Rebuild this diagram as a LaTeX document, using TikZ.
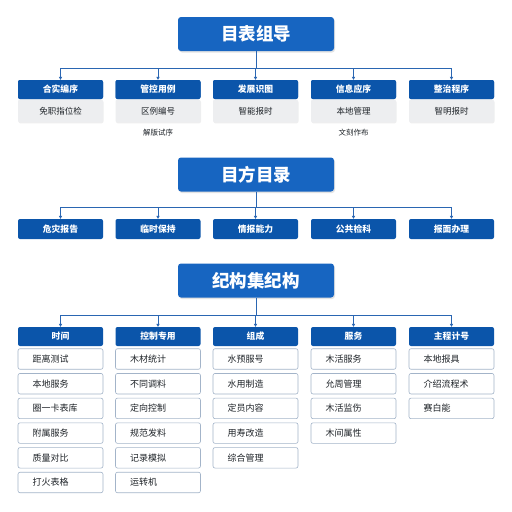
\documentclass[tikz,border=0pt]{standalone}
\usepackage{fontspec}
\setmainfont{Noto Sans CJK SC}
\usetikzlibrary{shadows,arrows.meta}
\definecolor{titleblue}{HTML}{1765C1}
\definecolor{hdrblue}{HTML}{0B55AA}
\definecolor{linkblue}{HTML}{2A66B2}
\definecolor{bodygray}{HTML}{EDEEF0}
\definecolor{itemborder}{HTML}{A3B4C9}
\definecolor{txtdark}{HTML}{1E2328}
\begin{document}
\begin{tikzpicture}[x=1pt,y=-1pt,
  titlebox/.style={fill=titleblue, rounded corners=3pt, minimum width=156pt, minimum height=34pt, inner sep=0pt,
    text=white, font=\fontsize{17.5}{17.5}\selectfont\bfseries,
    drop shadow={opacity=0.22, shadow xshift=1pt, shadow yshift=-1.5pt}},
  hdr/.style={fill=hdrblue, rounded corners=2pt, minimum width=85pt, minimum height=19pt, inner sep=0pt,
    text=white, font=\fontsize{8.8}{8.8}\selectfont\bfseries},
  bodybox/.style={fill=bodygray, rounded corners=2pt, minimum width=85pt, minimum height=23pt, inner sep=0pt,
    text=txtdark, font=\fontsize{8.5}{8.5}\selectfont,
    drop shadow={opacity=0.12, shadow xshift=0.5pt, shadow yshift=-1pt}},
  midbox/.style={fill=hdrblue, rounded corners=2pt, minimum width=85pt, minimum height=20pt, inner sep=0pt,
    text=white, font=\fontsize{8.8}{8.8}\selectfont\bfseries},
  itembox/.style={draw=itemborder, line width=0.6pt, fill=white, rounded corners=2pt, minimum height=20.5pt,
    text width=56pt, inner xsep=14.5pt, inner ysep=0pt, align=left,
    text=txtdark, font=\fontsize{9}{9}\selectfont},
  note/.style={text=txtdark, font=\fontsize{7.5}{7.5}\selectfont, inner sep=0pt},
  conn/.style={draw=linkblue, line width=0.9pt},
  arr/.style={conn, -{Triangle[length=3pt,width=3.2pt]}}
]
\useasboundingbox (0,0) rectangle (512,512);
\fill[white] (0,0) rectangle (512,512);

% ---------- section 1 ----------
\node[titlebox] (t1) at (256,34) {目表组导};
\coordinate (bus1) at (256,68);
\foreach \i/\x/\h/\b in {1/60.5/合实编序/免职指位检, 2/158/管控用例/区例编号, 3/255.5/发展识图/智能报时, 4/353.5/信息应序/本地管理, 5/451.5/整治程序/智明报时}{
  \node[hdr] (h\i) at (\x,89.5) {\h};
  \node[bodybox, anchor=north] (c\i) at (h\i.south) {\b};
  \node[hdr] at (\x,89.5) {\h};
}
\draw[conn] (t1) -- (bus1);
\draw[conn] (h1.north |- bus1) -- (h5.north |- bus1);
\foreach \i in {1,...,5}{\draw[arr] (h\i.north |- bus1) -- (h\i.north);}
\node[note] (n2) at (158,133) {解版试序};
\node[note] (n4) at (353.5,133) {文刻作布};

% ---------- section 2 ----------
\node[titlebox] (t2) at (256,174.5) {目方目录};
\coordinate (bus2) at (256,207);
\foreach \i/\x/\h in {1/60.5/危灾报告, 2/158/临时保持, 3/255.5/情报能力, 4/353.5/公共检科, 5/451.5/报面办理}{
  \node[midbox] (m\i) at (\x,229) {\h};
}
\draw[conn] (t2) -- (bus2);
\draw[conn] (m1.north |- bus2) -- (m5.north |- bus2);
\foreach \i in {1,...,5}{\draw[arr] (m\i.north |- bus2) -- (m\i.north);}

% ---------- section 3 ----------
\node[titlebox] (t3) at (256,280.5) {纪构集纪构};
\coordinate (bus3) at (256,315);
\foreach \i/\x/\h in {1/60.5/时间, 2/158/控制专用, 3/255.5/组成, 4/353.5/服务, 5/451.5/主程计号}{
  \node[hdr] (k\i) at (\x,336.5) {\h};
}
\draw[conn] (t3) -- (bus3);
\draw[conn] (k1.north |- bus3) -- (k5.north |- bus3);
\foreach \i in {1,...,5}{\draw[arr] (k\i.north |- bus3) -- (k\i.north);}

\foreach \t [count=\j] in {距离测试, 本地服务, 圈一卡表库, 附属服务, 质量对比, 打火表格}{
  \node[itembox] (a\j) at (60.5,{359+(\j-1)*24.7}) {\t};}
\foreach \t [count=\j] in {木材统计, 不同调料, 定向控制, 规范发料, 记录模拟, 运转机}{
  \node[itembox] (b\j) at (158,{359+(\j-1)*24.7}) {\t};}
\foreach \t [count=\j] in {水预服号, 水用制造, 定员内容, 用寿改造, 综合管理}{
  \node[itembox] (d\j) at (255.5,{359+(\j-1)*24.7}) {\t};}
\foreach \t [count=\j] in {木活服务, 允周管理, 木活监伤, 木间属性}{
  \node[itembox] (e\j) at (353.5,{359+(\j-1)*24.7}) {\t};}
\foreach \t [count=\j] in {本地报具, 介绍流程术, 赛白能}{
  \node[itembox] (f\j) at (451.5,{359+(\j-1)*24.7}) {\t};}
\end{tikzpicture}
\end{document}
